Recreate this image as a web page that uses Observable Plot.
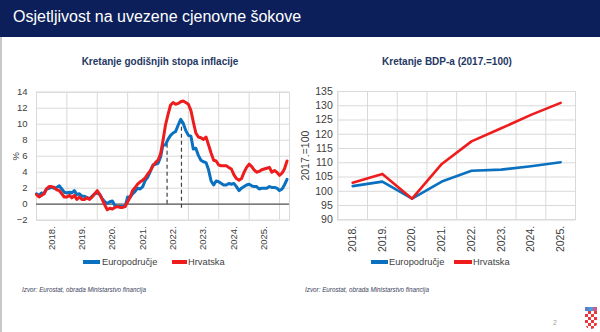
<!DOCTYPE html>
<html>
<head>
<meta charset="utf-8">
<script src="https://cdn.jsdelivr.net/npm/d3@7"></script>
<script src="https://cdn.jsdelivr.net/npm/@observablehq/plot@0.6"></script>
<style>
  html, body { margin: 0; padding: 0; }
  body { width: 600px; height: 332px; position: relative; background: #fff; overflow: hidden;
         font-family: "Liberation Sans", Arial, sans-serif; }
  #header { position: absolute; left: 0; top: 0; width: 600px; height: 37px; background: #0c1f5b; }
  #header span { position: absolute; left: 13px; top: 8px; color: #fff; font-size: 16px; white-space: nowrap; }
  #leftborder { position: absolute; left: 0; top: 37px; width: 2px; height: 295px; background: #c9c9c9; }
  .ctitle { position: absolute; width: 240px; text-align: center; font-size: 10px; font-weight: bold;
            color: #1f3864; white-space: nowrap; }
  .chart { position: absolute; top: 80px; }
  .leg { position: absolute; font-size: 9.3px; color: #404040; white-space: nowrap; line-height: 12px; }
  .sw { position: absolute; height: 3.5px; }
  .src { position: absolute; top: 286px; font-size: 6.3px; font-style: italic; color: #3b3f5c; white-space: nowrap; }
  #pnum { position: absolute; left: 553px; top: 319px; font-size: 7px; color: #a0a0a0; }
  #grb { position: absolute; left: 585px; top: 311px; width: 12px; height: 18px;
         background: repeating-conic-gradient(#e8383d 0 25%, #ffffff 0 50%) 0 0 / 6px 6px;
         border-radius: 0 0 6px 6px; }
  #crown { position: absolute; left: 585px; top: 307px; width: 12px; height: 4px;
           background: linear-gradient(90deg, #5b7fd0 0 33%, #4aa0d8 33% 66%, #d05a8a 66%); }
</style>
</head>
<body>
<div id="header"><span id="mainTitle"></span></div>
<div id="leftborder"></div>
<div class="ctitle" id="t1" style="left:40px; top:56px;"></div>
<div class="ctitle" id="t2" style="left:327px; top:56px;"></div>
<div class="chart" id="c1" style="left:0px;"></div>
<div class="chart" id="c2" style="left:300px;"></div>
<div id="legends"></div>
<div class="src" style="left:22px;" id="s1"></div>
<div class="src" style="left:305px;" id="s2"></div>
<div id="pnum">2</div>
<div id="crown"></div>
<div id="grb"></div>
<script>
// ---------- texts ----------
const mainTitle = "Osjetljivost na uvezene cjenovne šokove";
const chartTitles = ["Kretanje godišnjih stopa inflacije", "Kretanje BDP-a (2017.=100)"];
const seriesNames = ["Europodručje", "Hrvatska"];
const seriesColors = ["#0a70c0", "#ee1c1c"];
const sourceText = "Izvor: Eurostat, obrada Ministarstvo financija";
const yLabels = ["%", "2017.=100"];

// ---------- left chart: monthly annual inflation, Jan 2018 - Apr 2026 ----------
const inflStartYear = 2018;
const euroInfl = [
  1.3, 1.1, 1.4, 1.3, 1.9, 2.0, 2.1, 2.0, 2.1, 2.3, 1.9, 1.5,
  1.4, 1.5, 1.4, 1.7, 1.2, 1.3, 1.0, 1.0, 0.8, 0.7, 1.0, 1.3,
  1.4, 1.2, 0.7, 0.3, 0.1, 0.3, 0.4, -0.2, -0.3, -0.3, -0.3, -0.3,
  0.9, 0.9, 1.3, 1.6, 2.0, 1.9, 2.2, 3.0, 3.4, 4.1, 4.9, 5.0,
  5.1, 5.9, 7.4, 7.4, 8.1, 8.6, 8.9, 9.1, 9.9, 10.6, 10.1, 9.2,
  8.6, 8.5, 6.9, 7.0, 6.1, 5.5, 5.3, 5.2, 4.3, 2.9, 2.4, 2.9,
  2.8, 2.6, 2.4, 2.4, 2.6, 2.5, 2.6, 2.2, 1.7, 2.0, 2.2, 2.4,
  2.5, 2.3, 2.2, 2.2, 1.9, 2.0, 2.0, 2.0, 2.2, 2.1, 2.1, 2.0,
  1.7, 1.9, 2.4, 3.1
];
const croInfl = [
  1.2, 0.9, 1.1, 1.3, 1.9, 2.2, 2.2, 2.1, 1.8, 1.7, 1.3, 0.9,
  0.9, 1.1, 0.8, 1.1, 0.6, 0.9, 0.6, 0.6, 0.8, 0.6, 0.9, 1.3,
  1.7, 1.2, 0.6, -0.1, -0.7, -0.5, -0.6, -0.4, -0.3, -0.4, -0.4, -0.3,
  0.3, 0.9, 1.7, 2.1, 2.5, 2.8, 3.0, 3.3, 3.8, 4.2, 4.8, 5.2,
  5.5, 6.3, 7.9, 9.9, 11.2, 12.4, 12.7, 12.5, 12.6, 12.8, 12.9, 12.7,
  12.5, 11.7, 10.3, 8.9, 8.4, 8.3, 8.1, 8.4, 7.4, 6.4, 5.5, 5.4,
  4.9, 4.8, 4.8, 4.8, 4.6, 4.4, 3.7, 3.2, 3.0, 3.2, 4.0, 4.6,
  5.0, 4.7, 4.3, 4.0, 4.1, 4.3, 4.4, 4.5, 4.6, 4.0, 4.2, 4.0,
  3.6, 3.9, 4.4, 5.4
];
const inflTicks = [-2, 0, 2, 4, 6, 8, 10, 12, 14];
const yearLabels = ["2018.", "2019.", "2020.", "2021.", "2022.", "2023.", "2024.", "2025."];
// dashed markers (date, bottom, top)
const markerDates = ["2022-04-20", "2022-10-10"];
const markerBottom = [0, -0.5];
const markerTop = [7.6, 10.6];

// ---------- right chart: GDP index (2017 = 100) ----------
const euroGDP = [101.8, 103.4, 97.4, 103.4, 107.2, 107.6, 108.8, 110.2];
const croGDP  = [103.0, 106.1, 97.4, 109.6, 117.5, 122.1, 126.8, 131.0];
const gdpTicks = [90, 95, 100, 105, 110, 115, 120, 125, 130, 135];

// ---------- static text ----------
document.getElementById("mainTitle").textContent = mainTitle;
document.getElementById("t1").textContent = chartTitles[0];
document.getElementById("t2").textContent = chartTitles[1];
document.getElementById("s1").textContent = sourceText;
document.getElementById("s2").textContent = sourceText;

const font = "Liberation Sans, Arial, sans-serif";
const grid = "#d9d9d9";

// ---------- left chart ----------
const monthDate = i => new Date(Date.UTC(inflStartYear, i, 1));
const inflData = [];
euroInfl.forEach((v, i) => inflData.push({date: monthDate(i), value: v, series: seriesNames[0]}));
croInfl.forEach((v, i) => inflData.push({date: monthDate(i), value: v, series: seriesNames[1]}));
const yearStarts = d3.range(yearLabels.length + 1).map(i => new Date(Date.UTC(inflStartYear + i, 0, 1)));
const yearMids = yearLabels.map((l, i) => new Date(Date.UTC(inflStartYear + i, 6, 1)));
const markers = markerDates.map((d, i) => ({date: new Date(d), y1: markerBottom[i], y2: markerTop[i]}));

const left = Plot.plot({
  width: 300, height: 180,
  marginLeft: 36, marginRight: 11, marginTop: 11.7, marginBottom: 40.3,
  style: {fontFamily: font, fontSize: "9.5px", color: "#404040", background: "transparent", overflow: "visible"},
  x: {type: "utc", domain: [monthDate(0), monthDate(100)], ticks: yearMids,
      tickFormat: d => yearLabels[d.getUTCFullYear() - inflStartYear],
      tickRotate: -90, tickSize: 0, tickPadding: 6, label: null},
  y: {domain: [-2, 14], ticks: inflTicks, tickSize: 0, tickPadding: 9, label: null},
  marks: [
    Plot.ruleY(inflTicks, {stroke: grid, strokeWidth: 1}),
    Plot.ruleX(yearStarts, {stroke: grid, strokeWidth: 1}),
    Plot.frame({stroke: grid}),
    Plot.ruleY([0], {stroke: "#595959", strokeWidth: 1.2}),
    Plot.ruleX(markers, {x: "date", y1: "y1", y2: "y2", stroke: "#404040", strokeWidth: 1.2, strokeDasharray: "4,3"}),
    Plot.line(inflData.filter(d => d.series === seriesNames[0]), {x: "date", y: "value", stroke: seriesColors[0], strokeWidth: 3}),
    Plot.line(inflData.filter(d => d.series === seriesNames[1]), {x: "date", y: "value", stroke: seriesColors[1], strokeWidth: 3}),
    Plot.text([yLabels[0]], {text: d => d, frameAnchor: "left", dx: -21, rotate: -90, textAnchor: "middle", fill: "#404040"})
  ]
});
document.getElementById("c1").appendChild(left);

// ---------- right chart ----------
const gdpData = [];
euroGDP.forEach((v, i) => gdpData.push({i, value: v, series: seriesNames[0]}));
croGDP.forEach((v, i) => gdpData.push({i, value: v, series: seriesNames[1]}));
const bandEdges = d3.range(yearLabels.length + 1).map(i => i - 0.5);

const right = Plot.plot({
  width: 300, height: 180,
  marginLeft: 37.3, marginRight: 25, marginTop: 11, marginBottom: 40.7,
  style: {fontFamily: font, fontSize: "10.5px", color: "#404040", background: "transparent", overflow: "visible"},
  x: {type: "linear", domain: [-0.5, yearLabels.length - 0.5], ticks: d3.range(yearLabels.length),
      tickFormat: i => yearLabels[i], tickRotate: -90, tickSize: 0, tickPadding: 6, label: null},
  y: {domain: [90, 135], ticks: gdpTicks, tickSize: 0, tickPadding: 5, label: null},
  marks: [
    Plot.ruleY(gdpTicks, {stroke: grid, strokeWidth: 1}),
    Plot.ruleX(bandEdges, {stroke: grid, strokeWidth: 1}),
    Plot.frame({stroke: grid}),
    Plot.line(gdpData.filter(d => d.series === seriesNames[0]), {x: "i", y: "value", stroke: seriesColors[0], strokeWidth: 2.6}),
    Plot.line(gdpData.filter(d => d.series === seriesNames[1]), {x: "i", y: "value", stroke: seriesColors[1], strokeWidth: 2.6}),
    Plot.text([yLabels[1]], {text: d => d, frameAnchor: "left", dx: -32, rotate: -90, textAnchor: "middle", fill: "#404040"})
  ]
});
document.getElementById("c2").appendChild(right);

// ---------- legends ----------
const legendPos = [
  {swatches: [83, 172], texts: [102, 188], swW: [17, 15]},
  {swatches: [371, 454], texts: [389, 473], swW: [17, 18]}
];
const legWrap = document.getElementById("legends");
legendPos.forEach(p => {
  seriesNames.forEach((name, k) => {
    const sw = document.createElement("div");
    sw.className = "sw";
    sw.style.left = p.swatches[k] + "px";
    sw.style.top = "260px";
    sw.style.width = p.swW[k] + "px";
    sw.style.background = seriesColors[k];
    legWrap.appendChild(sw);
    const t = document.createElement("div");
    t.className = "leg";
    t.style.left = p.texts[k] + "px";
    t.style.top = "256px";
    t.textContent = name;
    legWrap.appendChild(t);
  });
});
</script>
</body>
</html>
